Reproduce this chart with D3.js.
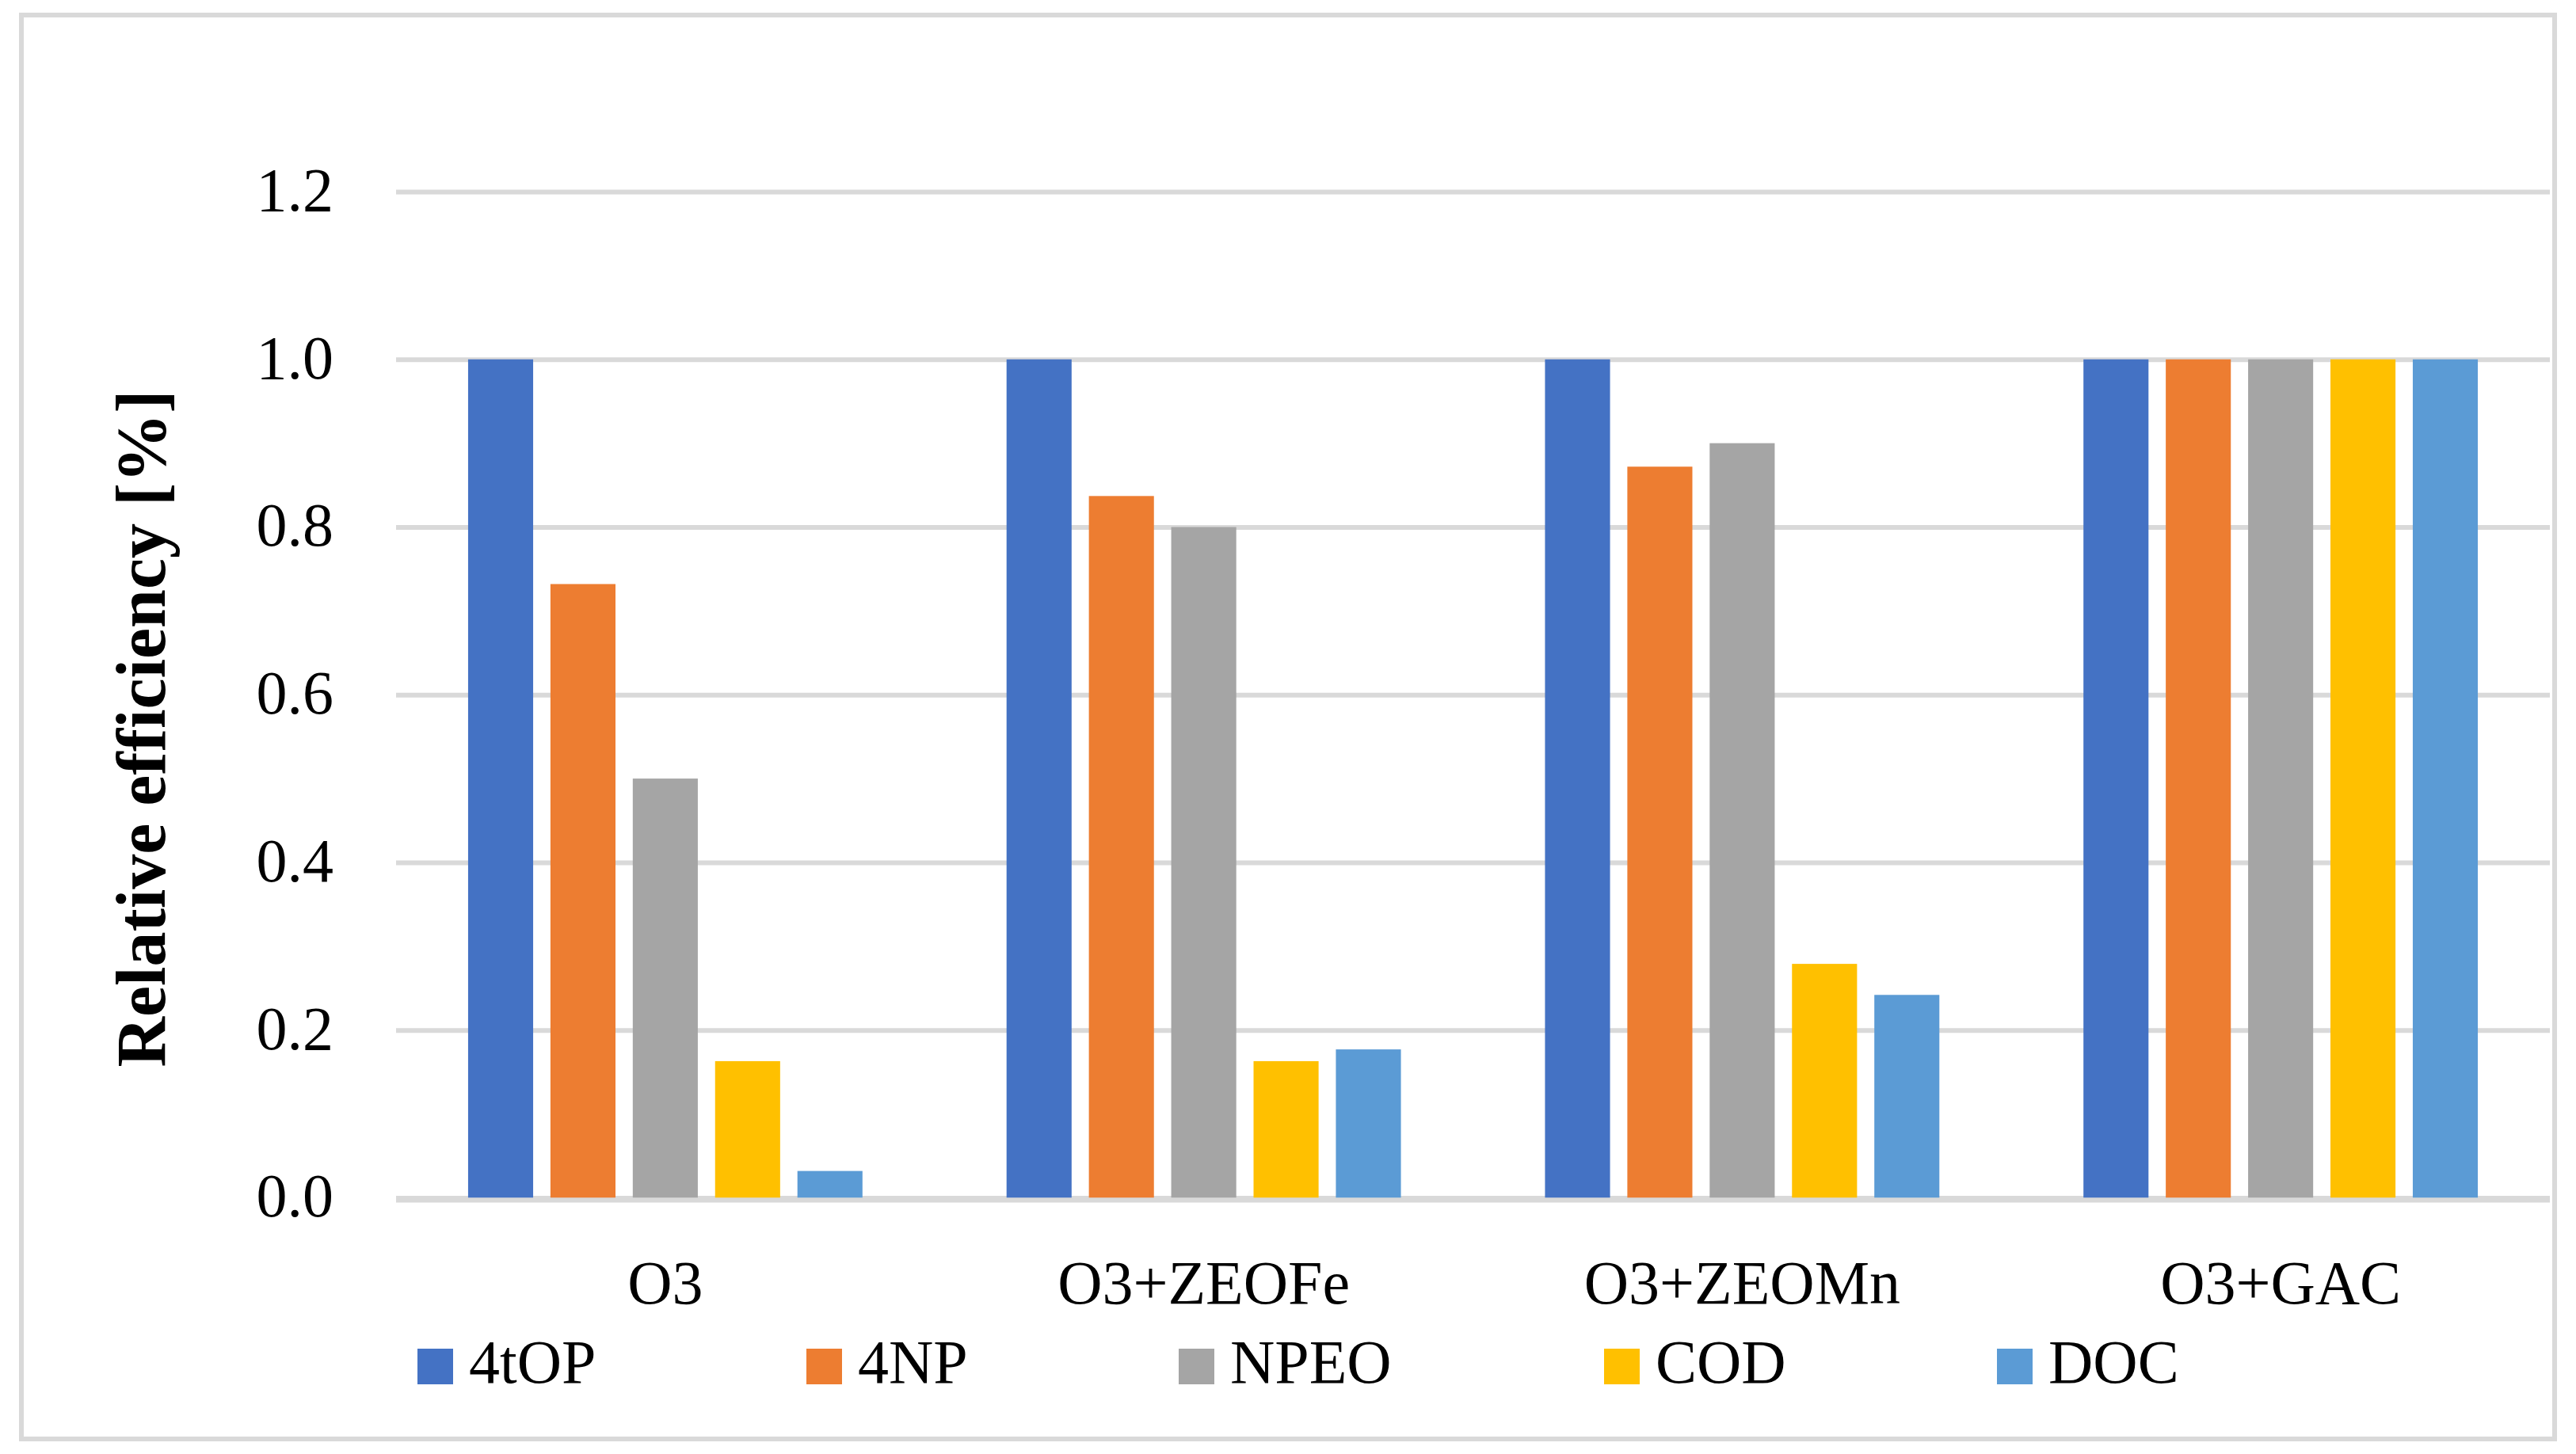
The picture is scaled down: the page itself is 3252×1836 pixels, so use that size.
<!DOCTYPE html>
<html>
<head>
<meta charset="utf-8">
<script src="https://cdn.jsdelivr.net/npm/d3@7/dist/d3.min.js"></script>
<style>
html,body{margin:0;padding:0;background:#fff;}
svg{display:block;}
text{font-family:"Liberation Serif","Times New Roman",serif;fill:#000;}
</style>
</head>
<body>
<svg id="chart" width="3252" height="1836"></svg>
<script>
const categories = ["O3", "O3+ZEOFe", "O3+ZEOMn", "O3+GAC"];
const seriesNames = ["4tOP", "4NP", "NPEO", "COD", "DOC"];
const s4tOP = [1.0, 1.0, 1.0, 1.0];
const s4NP  = [0.732, 0.837, 0.872, 1.0];
const sNPEO = [0.5, 0.8, 0.9, 1.0];
const sCOD  = [0.163, 0.163, 0.279, 1.0];
const sDOC  = [0.032, 0.177, 0.242, 1.0];
const yTicks = [0, 0.2, 0.4, 0.6, 0.8, 1.0, 1.2];
const yLabel = "Relative efficiency [%]";

const seriesValues = [s4tOP, s4NP, sNPEO, sCOD, sDOC];
const colors = ["#4472C4", "#ED7D31", "#A5A5A5", "#FFC000", "#5B9BD5"];

const svg = d3.select("#chart");
const W = 3252, H = 1836;
const plot = {left: 500, right: 3219, top: 242, bottom: 1512.5};

svg.append("rect").attr("width", W).attr("height", H).attr("fill", "#fff");
// outer border
svg.append("rect").attr("x", 27).attr("y", 19).attr("width", 3198).attr("height", 1798)
  .attr("fill", "none").attr("stroke", "#d9d9d9").attr("stroke-width", 6);

const y = d3.scaleLinear().domain([0, 1.2]).range([plot.bottom, plot.top]);
const x0 = d3.scaleBand().domain(categories).range([plot.left, plot.right]).padding(0);
const x1 = d3.scaleBand().domain(seriesNames).range([0, x0.bandwidth()])
  .paddingInner(0.21).paddingOuter(0.875);

// gridlines
const yAxis = d3.axisLeft(y).tickValues(yTicks).tickSize(-(plot.right - plot.left)).tickFormat(d3.format(".1f")).tickPadding(79);
const gy = svg.append("g").attr("transform", `translate(${plot.left},0)`).call(yAxis);
gy.select(".domain").remove();
gy.selectAll(".tick line").attr("stroke", "#d9d9d9").attr("stroke-width", 6);
gy.selectAll(".tick text").attr("font-size", 78).attr("dy", "0.3em")
  .style("font-family", '"Liberation Serif","Times New Roman",serif').attr("fill", "#000");

// bars
const groups = svg.append("g").selectAll("g").data(categories).join("g")
  .attr("transform", d => `translate(${x0(d)},0)`);
groups.selectAll("rect")
  .data((c, ci) => seriesNames.map((s, si) => ({s, v: seriesValues[si][ci], si})))
  .join("rect")
  .attr("x", d => x1(d.s))
  .attr("width", x1.bandwidth())
  .attr("y", d => y(d.v))
  .attr("height", d => y(0) - y(d.v))
  .attr("fill", d => colors[d.si]);

// baseline redraw over bars
svg.append("line").attr("x1", plot.left).attr("x2", plot.right)
  .attr("y1", y(0) + 3).attr("y2", y(0) + 3).attr("stroke", "#d9d9d9").attr("stroke-width", 6);

// x axis labels
const xAxis = d3.axisBottom(x0).tickSize(0).tickPadding(0);
const gx = svg.append("g").attr("transform", `translate(0,${plot.bottom})`).call(xAxis);
gx.select(".domain").remove();
gx.selectAll(".tick text").attr("font-size", 78).attr("y", 133).attr("dy", 0)
  .style("font-family", '"Liberation Serif","Times New Roman",serif').attr("fill", "#000");

// y label
svg.append("text")
  .attr("transform", "translate(208,920) rotate(-90)")
  .attr("text-anchor", "middle")
  .attr("font-size", 88).attr("font-weight", "bold")
  .text(yLabel);

// legend
const legendX = [527, 1018, 1488, 2025, 2521];
const lg = svg.append("g").selectAll("g").data(seriesNames).join("g")
  .attr("transform", (d, i) => `translate(${legendX[i]},1703)`);
lg.append("rect").attr("width", 45).attr("height", 45).attr("fill", (d, i) => colors[i]);
lg.append("text").attr("x", 65).attr("y", 43).attr("font-size", 78).text(d => d);
</script>
</body>
</html>
